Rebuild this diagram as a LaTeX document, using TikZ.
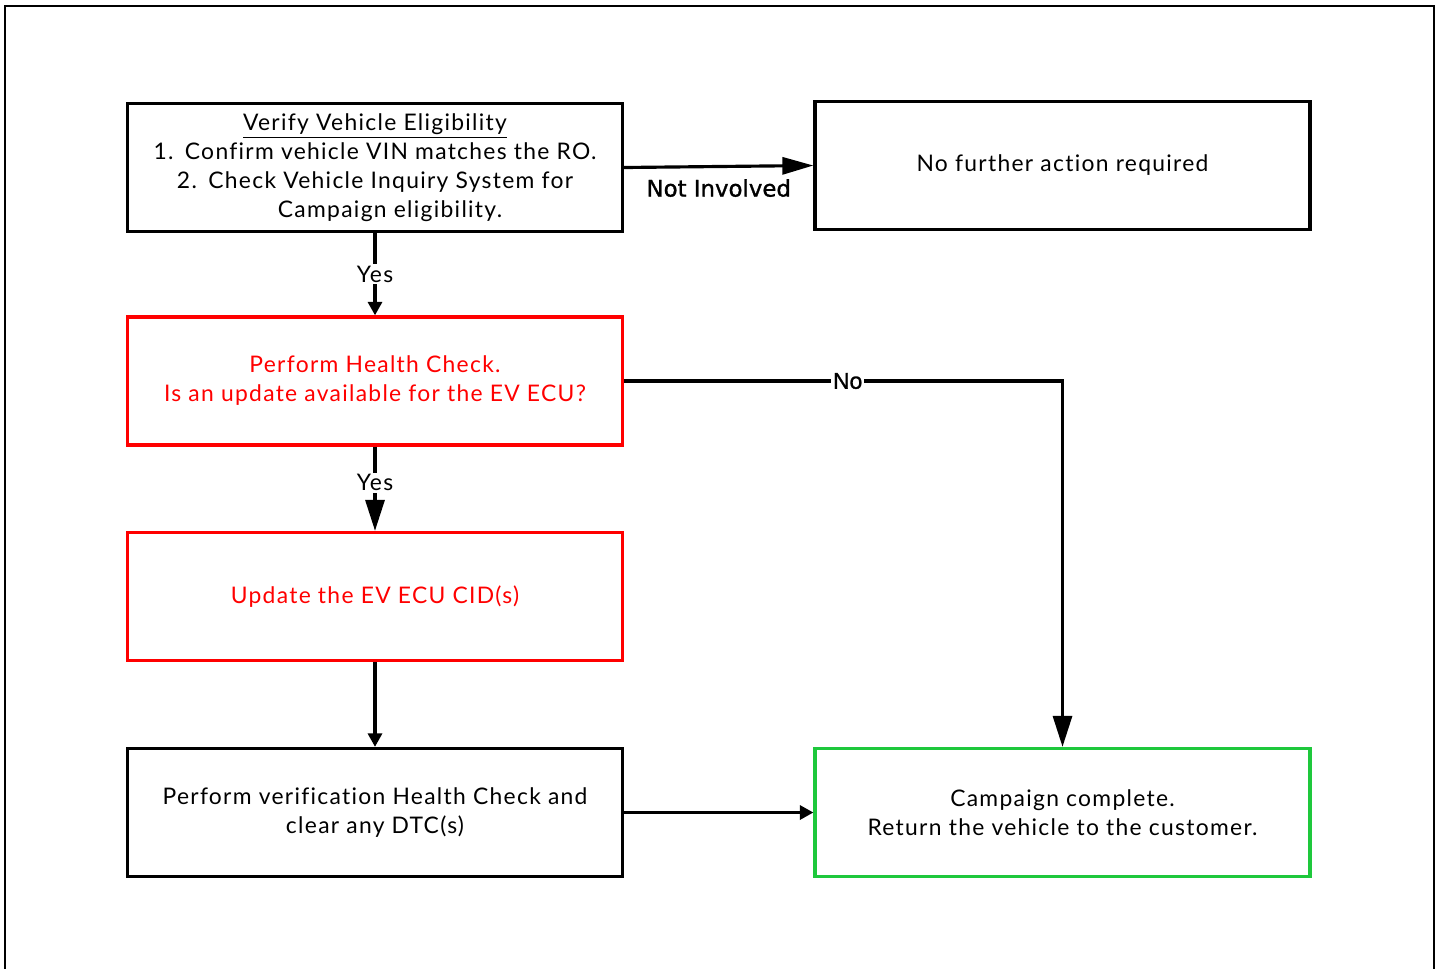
\documentclass[tikz,border=0pt]{standalone}
\usepackage{fontspec}
\setmainfont{Lato}[LetterSpace=5.7, Ligatures=NoCommon]
\newfontfamily\lblfont{DejaVu Sans}[FakeBold=1.2]
\newfontfamily\nofont{Liberation Sans}[FakeBold=1.2]
\usetikzlibrary{arrows.meta}
\definecolor{boxred}{RGB}{255,0,0}
\definecolor{boxgreen}{RGB}{30,200,60}
\begin{document}
\begin{tikzpicture}[x=0.02cm,y=-0.02cm,
  box/.style={draw, line width=1.9pt, minimum width=9.9cm, minimum height=2.56cm,
    align=center, inner sep=0pt, font=\fontsize{13}{16.5}\selectfont},
  conn/.style={line width=1.8pt},
  tipS/.style={-{Triangle[length=0.27cm,width=0.28cm]}},
  tipL/.style={-{Triangle[length=0.62cm,width=0.34cm]}},
  tipM/.style={-{Triangle[length=0.62cm,width=0.38cm]}},
  lbl/.style={fill=white, inner sep=1pt, font=\fontsize{13}{14}\selectfont}]
\useasboundingbox (0,0) rectangle (1442,968);
\draw[line width=1.4pt] (5,975) -- (5,6) -- (1434,6) -- (1434,975);

\node[box] (A) at (375,167.5) {\underline{Verify Vehicle Eligibility}\\
  1.\enspace Confirm vehicle VIN matches the RO.\\
  2.\enspace Check Vehicle Inquiry System for\\
  \hspace*{0.6cm}Campaign eligibility.};
\node[box] (B) at (1062.5,165.5) {No further action required};
\node[box, draw=boxred, text=boxred] (C) at (375,381) {Perform Health Check.\\ Is an update available for the EV ECU?};
\node[box, draw=boxred, text=boxred] (D) at (375,596.5) {Update the EV ECU CID(s)};
\node[box] (E) at (375,812.5) {Perform verification Health Check and\\ clear any DTC(s)};
\node[box, draw=boxgreen] (F) at (1062.5,812.5) {Campaign complete.\\ Return the vehicle to the customer.};

\draw[conn, tipL] (A.east) -- node[below=3pt, font=\lblfont\fontsize{13}{15}\selectfont] {Not Involved} (B.west);
\draw[conn, tipS] (A.south) -- node[lbl, pos=0.5] {Yes} (C.north);
\draw[conn, tipM] (C.south) -- node[lbl, pos=0.43] {Yes} (D.north);
\draw[conn, tipM] (C.east) -| node[pos=0.255, fill=white, inner sep=1pt, font=\nofont\fontsize{13}{15}\selectfont] {No} (F.north);
\draw[conn, tipS] (D.south) -- (E.north);
\draw[conn, tipS] (E.east) -- (F.west);
\end{tikzpicture}
\end{document}
